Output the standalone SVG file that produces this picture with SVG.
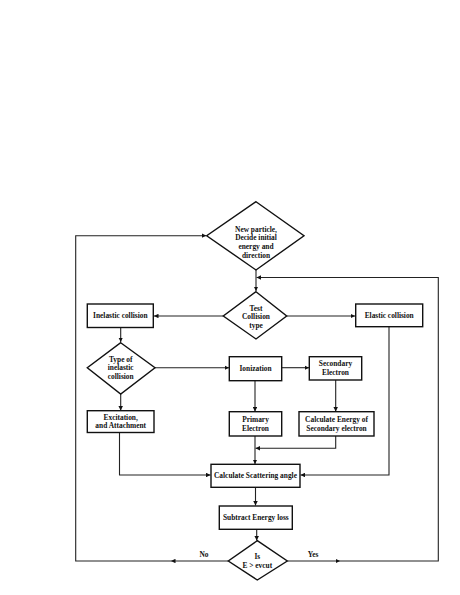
<svg xmlns="http://www.w3.org/2000/svg" width="460" height="595" viewBox="0 0 460 595">
<defs>
<marker id="ah" viewBox="0 0 8 8" refX="8" refY="4" markerWidth="4.5" markerHeight="4.5" markerUnits="userSpaceOnUse" orient="auto">
<path d="M0,0 L8,4 L0,8 z" fill="#111"/>
</marker>
<style>
.n{fill:#fff;stroke:#111;stroke-width:1.4}
.c{fill:none;stroke:#222;stroke-width:1.1}
.a{marker-end:url(#ah)}
text{font-family:"Liberation Serif","Times New Roman",serif;font-weight:bold;font-size:7.4px;fill:#111;text-anchor:middle}
</style>
</defs>
<rect width="460" height="595" fill="#fff"/>
<g id="connectors">
<path class="c a" d="M256,270 V291"/>
<path class="c a" d="M223.3,316 H154"/>
<path class="c a" d="M286.7,316 H355"/>
<path class="c a" d="M120.7,327.5 V342"/>
<path class="c a" d="M155,367.7 H229"/>
<path class="c a" d="M281.7,367.7 H309"/>
<path class="c a" d="M120.7,394 V410.5"/>
<path class="c a" d="M255,380.5 V411.5"/>
<path class="c a" d="M335.7,380 V411.5"/>
<path class="c a" d="M335.7,436 V448.3 H255.5"/>
<path class="c a" d="M255,436 V464"/>
<path class="c a" d="M119.5,432.5 V475 H210.5"/>
<path class="c a" d="M389,326.7 V475 H300.5"/>
<path class="c a" d="M255.5,487.3 V505.5"/>
<path class="c a" d="M256.7,529.3 V540.5"/>
<path class="c a" d="M228.3,561 H171"/>
<path class="c a" d="M171,561 H75.7 V235.7 H206.2"/>
<path class="c a" d="M287.3,561 H340"/>
<path class="c a" d="M340,561 H438.3 V277.5 H256.5"/>
</g>
<g id="start">
<polygon class="n" points="256,201.7 304,235.7 256,270 206.7,235.7"/>
<text x="256" y="231.8">New particle,</text>
<text x="256" y="240.3">Decide  initial</text>
<text x="256" y="249.3">energy and</text>
<text x="256" y="258">direction</text>
</g>
<g id="test">
<polygon class="n" points="256,291.7 286.7,316 256,339 223.3,316"/>
<text x="256" y="310.5">Test</text>
<text x="256" y="319.3">Collision</text>
<text x="256" y="328.2">type</text>
</g>
<g id="inelastic">
<rect class="n" x="87.3" y="304" width="66" height="23.5"/>
<text x="120.3" y="318.3">Inelastic collision</text>
</g>
<g id="elastic">
<rect class="n" x="355.7" y="304" width="67" height="22.7"/>
<text x="389.2" y="318">Elastic collision</text>
</g>
<g id="type">
<polygon class="n" points="120.7,342.7 155,367.7 120.7,394 87.3,367.7"/>
<text x="120.7" y="361.5">Type of</text>
<text x="120.7" y="370.3">inelastic</text>
<text x="120.7" y="379.2">collision</text>
</g>
<g id="ionization">
<rect class="n" x="229.3" y="356.7" width="52.4" height="24"/>
<text x="255.5" y="371">Ionization</text>
</g>
<g id="secondary">
<rect class="n" x="309.3" y="356.7" width="52.4" height="23.3"/>
<text x="335.5" y="366.3">Secondary</text>
<text x="335.5" y="375.3">Electron</text>
</g>
<g id="excitation">
<rect class="n" x="87.3" y="410.7" width="66.7" height="21.8"/>
<text x="120.7" y="419.5">Excitation,</text>
<text x="120.7" y="428.3">and Attachment</text>
</g>
<g id="primary">
<rect class="n" x="229.3" y="411.7" width="52.4" height="24.3"/>
<text x="255.5" y="421.5">Primary</text>
<text x="255.5" y="430.5">Electron</text>
</g>
<g id="calcenergy">
<rect class="n" x="299" y="411.7" width="75" height="24.3"/>
<text x="336.5" y="421.5">Calculate Energy of</text>
<text x="336.5" y="430.5">Secondary electron</text>
</g>
<g id="scattering">
<rect class="n" x="211" y="464.3" width="89" height="23"/>
<text x="255.5" y="478.3">Calculate Scattering angle</text>
</g>
<g id="subtract">
<rect class="n" x="219.3" y="506" width="73" height="23.3"/>
<text x="255.8" y="520">Subtract Energy loss</text>
</g>
<g id="is">
<polygon class="n" points="257.3,540.7 287.3,561 257.3,580 228.3,561"/>
<text x="257.3" y="559">Is</text>
<text x="257.3" y="568.3">E &gt; evcut</text>
</g>
<g id="labels">
<text x="204" y="556.5">No</text>
<text x="313" y="556.5">Yes</text>
</g>
</svg>
